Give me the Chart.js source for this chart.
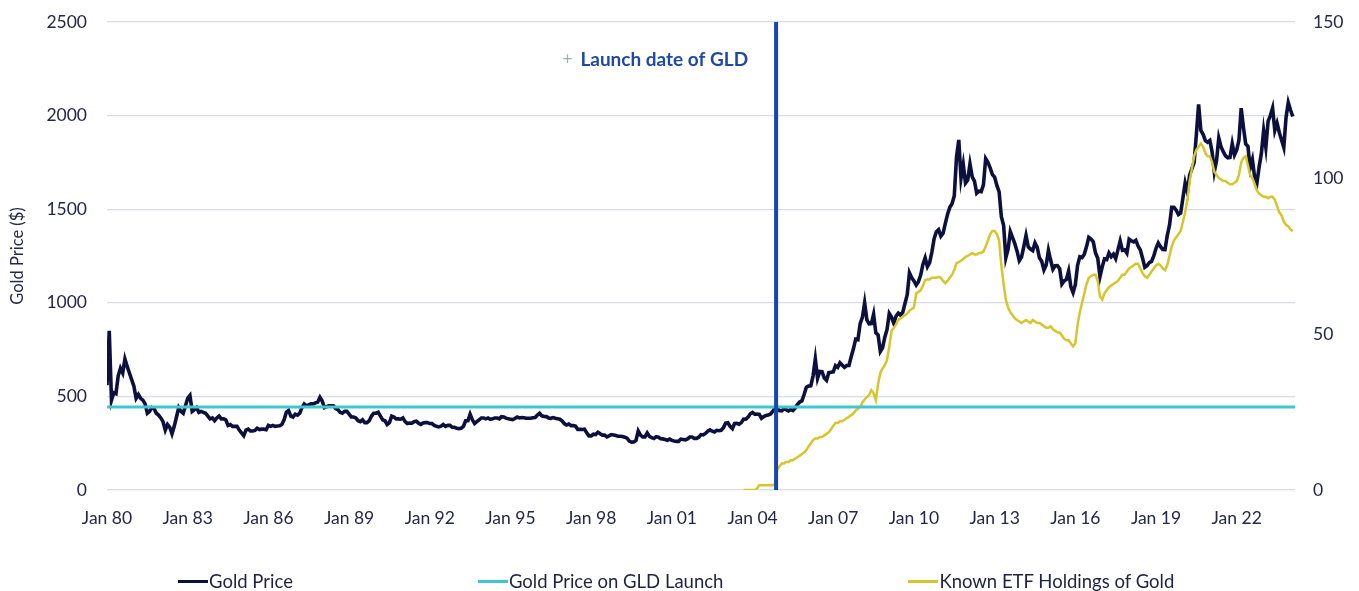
<!DOCTYPE html>
<html>
<head>
<meta charset="utf-8">
<script src="https://cdn.jsdelivr.net/npm/chart.js@4.4.1/dist/chart.umd.min.js"></script>
<style>
  html, body { margin: 0; padding: 0; background: #ffffff; }
  #wrap { position: relative; width: 1359px; height: 591px; overflow: hidden; }
  #c { position: absolute; left: 0; top: 0; }
  #legend { position: absolute; left: 178px; top: 570px; display: flex; gap: 185px; font-family: Lato, "Open Sans", sans-serif; font-size: 18.5px; color: #1f2142; }
  .item { display: flex; align-items: center; white-space: nowrap; }
  .swatch { width: 30px; height: 3px; margin-right: 1px; }
</style>
</head>
<body>
<div id="wrap">
  <canvas id="c" width="1359" height="591"></canvas>
  <div id="legend"></div>
</div>
<script>
// ---- Data (monthly) ----
const goldStartYear = 1980; // first value = Jan 1980
const gold1980s = [
  560, 850, 480, 520, 515, 610, 650, 625, 700, 660, 625, 590,
  555, 490, 510, 490, 480, 460, 410, 420, 440, 435, 410, 400,
  385, 365, 320, 350, 335, 300, 340, 390, 440, 420, 410, 450,
  490, 505, 420, 430, 440, 415, 420, 415, 410, 395, 380, 385,
  370, 385, 395, 380, 380, 375, 345, 350, 340, 340, 340, 320,
  305, 290, 320, 325, 315, 315, 318, 330, 323, 325, 325, 322,
  345, 340, 345, 340, 342, 343, 350, 375, 415, 425, 395, 390,
  405, 400, 410, 440, 460, 450, 455, 460, 460, 465, 470, 495,
  475, 440, 445, 450, 450, 450, 435, 430, 415, 410, 420, 420,
  405, 390, 390, 385, 370, 365, 375, 360, 360, 370, 395, 410
];
const gold1990s = [
  410, 415, 395, 375, 370, 350, 360, 395, 390, 380, 380, 378,
  385, 365, 355, 358, 357, 365, 368, 357, 350, 358, 360, 360,
  355, 355, 345, 340, 337, 341, 350, 340, 345, 345, 335, 335,
  330, 328, 330, 340, 370, 370, 405, 375, 355, 365, 375, 385,
  385, 380, 385, 377, 380, 385, 385, 380, 392, 390, 384, 380,
  378, 376, 382, 390, 385, 387, 386, 383, 383, 383, 386, 387,
  400, 410, 396, 393, 392, 385, 383, 387, 383, 381, 378, 369,
  355, 347, 352, 344, 344, 341, 324, 324, 323, 325, 306, 289,
  289, 298, 296, 308, 300, 293, 293, 284, 289, 296, 294, 291,
  287, 287, 286, 282, 277, 261, 256, 257, 265, 315, 293, 284
];
const gold2000s = [
  284, 305, 286, 280, 275, 285, 282, 274, 273, 270, 266, 272,
  265, 262, 260, 260, 272, 270, 268, 273, 283, 283, 276, 276,
  282, 296, 294, 302, 314, 321, 314, 310, 319, 317, 319, 333,
  357, 359, 340, 328, 355, 356, 351, 360, 379, 378, 389, 407,
  414, 405, 406, 404, 383, 392, 398, 400, 406, 420, 439, 442,
  424, 423, 434, 429, 422, 430, 424, 437, 456, 470, 476, 510,
  549, 555, 557, 610, 700, 596, 633, 632, 598, 586, 627, 629,
  631, 664, 655, 679, 667, 655, 665, 665, 712, 754, 806, 803,
  889, 922, 1000, 909, 888, 889, 939, 839, 829, 740, 760, 816,
  858, 943, 924, 890, 928, 945, 934, 949, 996, 1043, 1160, 1134
];
const gold2010s = [
  1117, 1095, 1113, 1148, 1205, 1240, 1193, 1215, 1271, 1342, 1380, 1391,
  1356, 1372, 1424, 1473, 1510, 1529, 1572, 1780, 1870, 1665, 1739, 1640,
  1656, 1742, 1673, 1650, 1585, 1596, 1594, 1630, 1770, 1750, 1721, 1685,
  1671, 1627, 1593, 1460, 1414, 1240, 1286, 1380, 1348, 1316, 1276, 1225,
  1244, 1300, 1360, 1299, 1287, 1279, 1320, 1296, 1239, 1222, 1176, 1202,
  1280, 1227, 1179, 1198, 1199, 1182, 1100, 1117, 1125, 1170, 1086, 1055,
  1097, 1200, 1246, 1242, 1260, 1300, 1350, 1341, 1326, 1266, 1238, 1140,
  1192, 1234, 1231, 1266, 1246, 1260, 1236, 1283, 1330, 1280, 1283, 1265,
  1340, 1331, 1325, 1334, 1303, 1282, 1238, 1190, 1198, 1215, 1221, 1250,
  1291, 1320, 1300, 1285, 1284, 1359, 1413, 1510, 1510, 1495, 1471, 1480
];
const gold2020s = [
  1560, 1640, 1592, 1683, 1715, 1750, 1900, 2060, 1921, 1900, 1866, 1858,
  1867, 1808, 1700, 1760, 1880, 1834, 1807, 1785, 1775, 1777, 1850, 1790,
  1817, 1870, 2040, 1937, 1849, 1836, 1720, 1765, 1670, 1640, 1726, 1798,
  1920, 1830, 1970, 2000, 2040, 1920, 1960, 1910, 1870, 1830, 1990, 2070,
  2030, 1995
];

const etfStartYear = 2003, etfStartMonth = 8; // first value = Sep 2003
const etf2000s = [
  0, 0, 0, 0,
  0, 0, 0.5, 1.5, 1.5, 1.5, 1.5, 1.5, 1.5, 1.5, 2, 6.5,
  7.5, 8.5, 8.5, 9, 9, 9.5, 9.5, 10, 10.5, 11, 11.5, 12,
  12.8, 14, 15, 16, 16.5, 16.5, 17, 17, 17.5, 18, 18.5, 19.5,
  20.5, 21.5, 21.5, 22, 22, 22.5, 23, 23.5, 24, 24.5, 25.5, 26,
  26.6, 28, 29, 29.8, 30.5, 32, 31, 28.8, 34, 37.5, 39, 40,
  41.7, 46, 51, 52, 53, 54.5, 55, 55.5, 56, 56.5, 57.5, 58
];
const etf2010s = [
  58.5, 63, 63.5, 64, 65.5, 67.3, 67.5, 67.5, 68, 68, 68, 68.3,
  68, 67, 66.3, 67, 68, 69, 70.5, 72.7, 73, 73.5, 74, 74.7,
  75, 75.5, 75.9, 75.5, 75.5, 76, 76, 76.5, 78, 80, 82, 83,
  83, 82, 80, 72, 66, 61, 58.5, 57, 56, 55, 54.5, 54,
  53.5, 54, 54.5, 54, 53.5, 54.5, 54, 53.5, 53.5, 53, 52.5, 52,
  52, 52.5, 51.5, 51, 50.5, 50.5, 49.5, 48.5, 48, 48, 47, 46,
  47, 53, 57, 60, 63, 66, 68, 68.5, 69, 69, 67, 62,
  61, 63, 64, 65, 65.5, 66, 66.5, 67, 68, 69, 69, 70,
  71, 71.5, 72, 72.5, 72.5, 71, 69.5, 68.5, 68, 69, 70, 71,
  72, 72.5, 72, 71, 70.5, 72, 75, 78, 80, 81, 82, 83
];
const etf2020s = [
  86, 89, 93, 99, 103, 107, 109, 110, 111, 110, 108, 107,
  107, 105, 102, 101, 100, 99.5, 99, 99, 98.5, 98, 98, 98.5,
  99, 101, 105, 106.5, 107, 104, 101, 100, 98, 96, 95, 94.5,
  94, 94, 93.5, 94, 94, 93, 91, 89, 88, 86, 85, 84.5,
  83.5, 83
];

const launchPrice = 443;             // Gold price on GLD launch ($)
const launchDate = 2004 + 10.5 / 12; // mid Nov 2004
const xMin = 1980, xMax = 2024 + 2 / 12;
const tickYears = [1980, 1983, 1986, 1989, 1992, 1995, 1998, 2001, 2004, 2007, 2010, 2013, 2016, 2019, 2022];
const leftTicks = [0, 500, 1000, 1500, 2000, 2500];
const rightTicks = [0, 50, 100, 150];
const seriesLabels = ['Gold Price', 'Gold Price on GLD Launch', 'Known ETF Holdings of Gold'];
const launchText = 'Launch date of GLD';

// ---- Build points ----
const goldAll = [].concat(gold1980s, gold1990s, gold2000s, gold2010s, gold2020s);
const goldPts = goldAll.map((v, i) => ({ x: goldStartYear + i / 12, y: v }));
const etfAll = [].concat(etf2000s, etf2010s, etf2020s);
const etfPts = etfAll.map((v, i) => ({ x: etfStartYear + (etfStartMonth + i) / 12, y: v }));

const FONT = 'Lato, "Open Sans", sans-serif';
const TXT = '#24264a';

const launchLabelPlugin = {
  id: 'launchLabel',
  afterDatasetsDraw(chart) {
    const { ctx, scales } = chart;
    const xp = scales.x.getPixelForValue(launchDate);
    const yp = scales.y.getPixelForValue(2300);
    ctx.save();
    ctx.font = 'bold 19px ' + FONT;
    ctx.fillStyle = '#1e4aa6';
    ctx.textAlign = 'right';
    ctx.textBaseline = 'middle';
    ctx.fillText(launchText, xp - 28, yp);
    const w = ctx.measureText(launchText).width;
    ctx.fillStyle = '#a8adb8';
    ctx.font = '18px ' + FONT;
    ctx.textAlign = 'center';
    ctx.fillText('+', xp - 28 - w - 13, yp);
    ctx.restore();
  }
};

const noVPad = s => { s.paddingTop = 0; s.paddingBottom = 0; };

const chart = new Chart(document.getElementById('c'), {
  type: 'line',
  data: {
    datasets: [
      { label: seriesLabels[0], data: goldPts, yAxisID: 'y', borderColor: '#0c103d', borderWidth: 3.6, pointRadius: 0, order: 4, tension: 0 },
      { label: seriesLabels[1], data: [{ x: xMin, y: launchPrice }, { x: xMax, y: launchPrice }], yAxisID: 'y', borderColor: '#3ec7d1', borderWidth: 3, pointRadius: 0, order: 2 },
      { label: seriesLabels[2], data: etfPts, yAxisID: 'y1', borderColor: '#d7c52c', borderWidth: 2.5, pointRadius: 0, order: 3, tension: 0 },
      { label: 'launch', data: [{ x: launchDate, y: 0 }, { x: launchDate, y: 2500 }], yAxisID: 'y', borderColor: '#1447b5', borderWidth: 4, pointRadius: 0, order: 1 }
    ]
  },
  options: {
    responsive: false,
    animation: false,
    events: [],
    layout: { padding: { top: 22, bottom: 56, left: 0, right: 0 } },
    scales: {
      x: {
        type: 'linear', min: xMin, max: xMax,
        grid: { display: false, drawTicks: false },
        border: { display: false },
        afterBuildTicks: s => { s.ticks = tickYears.map(v => ({ value: v })); },
        afterFit: s => { s.height = 45; s.paddingLeft = 0; s.paddingRight = 0; },
        ticks: {
          padding: 18, color: TXT, font: { family: FONT, size: 17.5 }, maxRotation: 0, autoSkip: false,
          callback: v => 'Jan ' + String(v % 100).padStart(2, '0')
        }
      },
      y: {
        position: 'left', min: 0, max: 2500,
        afterBuildTicks: s => { s.ticks = leftTicks.map(v => ({ value: v })); },
        afterFit: s => { s.width = 107; noVPad(s); },
        grid: { color: '#d8dce5', lineWidth: 1.2, drawTicks: false },
        border: { display: false },
        ticks: { padding: 20, color: TXT, font: { family: FONT, size: 17.5 }, callback: v => String(v) },
        title: { display: true, text: 'Gold Price ($)', color: TXT, font: { family: FONT, size: 16.5 }, padding: { top: 8, bottom: 0 } }
      },
      y1: {
        position: 'right', min: 0, max: 150,
        afterBuildTicks: s => { s.ticks = rightTicks.map(v => ({ value: v })); },
        afterFit: s => { s.width = 64; noVPad(s); },
        grid: { display: false, drawTicks: false },
        border: { display: false },
        ticks: { padding: 18, color: TXT, font: { family: FONT, size: 17.5 }, callback: v => String(v) }
      }
    },
    plugins: { legend: { display: false }, tooltip: { enabled: false } }
  },
  plugins: [launchLabelPlugin]
});

// HTML legend built from the datasets
const legendEl = document.getElementById('legend');
chart.data.datasets.slice(0, 3).forEach(ds => {
  const it = document.createElement('div');
  it.className = 'item';
  const sw = document.createElement('span');
  sw.className = 'swatch';
  sw.style.background = ds.borderColor;
  const tx = document.createElement('span');
  tx.textContent = ds.label;
  it.appendChild(sw); it.appendChild(tx);
  legendEl.appendChild(it);
});
</script>
</body>
</html>
